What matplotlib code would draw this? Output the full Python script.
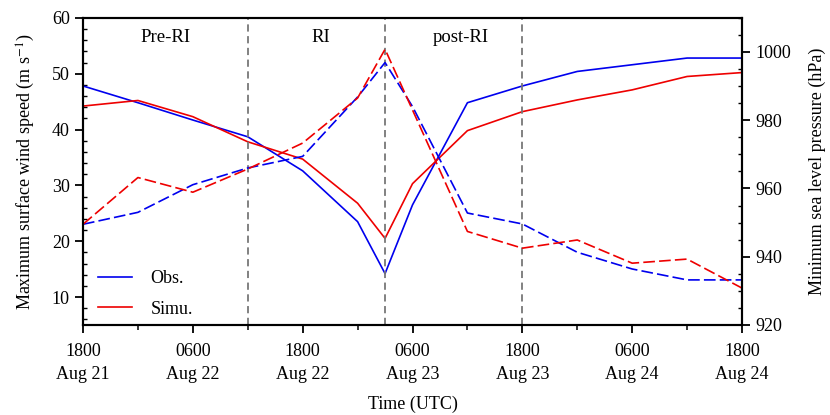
import matplotlib.pyplot as plt
from matplotlib.ticker import MultipleLocator

plt.rcParams['font.family'] = ['Liberation Serif', 'DejaVu Serif']
plt.rcParams['mathtext.fontset'] = 'stix'

# hours since 1800 UTC Aug 21
hours = [0, 6, 12, 18, 24, 30, 33, 36, 42, 48, 54, 60, 66, 72]

# maximum surface wind speed (m/s)
wind_obs = [47.8, 44.8, 41.7, 38.7, 32.6, 23.5, 14.2, 26.5, 44.8, 47.8, 50.4, 51.6, 52.8, 52.8]
wind_sim = [44.2, 45.2, 42.3, 37.8, 34.7, 26.8, 20.5, 30.3, 39.8, 43.2, 45.3, 47.1, 49.5, 50.2]

# minimum sea level pressure (hPa)
mslp_obs = [949.5, 953.0, 961.1, 966.0, 969.4, 986.8, 996.9, 984.0, 952.8, 949.6, 941.3, 936.4, 933.2, 933.2]
mslp_sim = [949.5, 963.2, 958.9, 965.7, 973.3, 986.5, 1000.8, 983.0, 947.4, 942.5, 944.9, 938.1, 939.3, 930.8]

xticks = [0, 12, 24, 36, 48, 60, 72]
xticklabels = ['1800\nAug 21', '0600\nAug 22', '1800\nAug 22', '0600\nAug 23',
               '1800\nAug 23', '0600\nAug 24', '1800\nAug 24']
phase_bounds = [18, 33, 48]
phase_names = ['Pre-RI', 'RI', 'post-RI']
phase_x = [9, 26, 41.3]

fs = 13

fig = plt.figure(figsize=(8.3, 4.15), dpi=100)
ax = fig.add_axes([0.1, 0.217, 0.794, 0.74])
ax2 = ax.twinx()

dash = (0, (7, 2.5))
ax.plot(hours, wind_obs, color='#0000ee', lw=1.2, label='Obs.')
ax.plot(hours, wind_sim, color='#ee0000', lw=1.2, label='Simu.')
ax2.plot(hours, mslp_obs, color='#0000ee', lw=1.2, ls=dash)
ax2.plot(hours, mslp_sim, color='#ee0000', lw=1.2, ls=dash)

for b in phase_bounds:
    ax.axvline(b, color='#777777', lw=1.3, ls=(0, (4, 2.5)))
for name, xp in zip(phase_names, phase_x):
    ax.text(xp, 56.4, name, ha='center', va='center', fontsize=fs + 0.5)

ax.set_xlim(0, 72)
ax.set_ylim(5, 60)
ax2.set_ylim(920, 1010)

ax.set_xticks(xticks)
ax.set_xticklabels(xticklabels, fontsize=fs, linespacing=1.45)
ax.xaxis.set_minor_locator(MultipleLocator(6))
ax.set_yticks([10, 20, 30, 40, 50, 60])
ax.yaxis.set_minor_locator(MultipleLocator(2))
ax2.set_yticks([920, 940, 960, 980, 1000])
ax2.yaxis.set_minor_locator(MultipleLocator(5))

ax.tick_params(axis='x', which='major', direction='out', length=6, width=1.3, labelsize=fs, pad=7)
ax.tick_params(axis='x', which='minor', direction='out', length=3.5, width=1.1)
ax.tick_params(axis='y', which='major', direction='out', length=6, width=1.3, labelsize=fs)
ax.tick_params(axis='y', which='minor', direction='in', length=3, width=1.0)
ax2.tick_params(axis='y', which='major', direction='out', length=6, width=1.3, labelsize=fs)
ax2.tick_params(axis='y', which='minor', direction='in', length=3, width=1.0)

for a in (ax, ax2):
    for s in a.spines.values():
        s.set_linewidth(1.5)

ax.set_xlabel('Time (UTC)', fontsize=fs, labelpad=9)
ax.set_ylabel('Maximum surface wind speed (m s$^{-1}$)', fontsize=fs, labelpad=11)
ax2.set_ylabel('Minimum sea level pressure (hPa)', fontsize=fs, labelpad=13)

ax.legend(loc='lower left', bbox_to_anchor=(0.012, 0.0), frameon=False, fontsize=fs,
          handlelength=1.9, labelspacing=0.75, borderaxespad=0.0, handletextpad=1.0)

fig.savefig('out.png', dpi=100)
